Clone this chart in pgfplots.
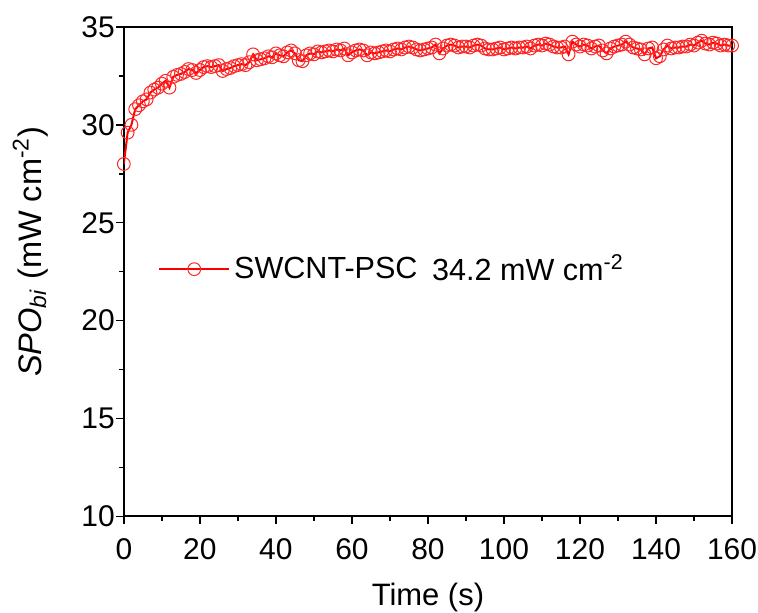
\documentclass[border=0pt]{standalone}
\usepackage{fontspec}
\setmainfont{Liberation Sans}
\usepackage{pgfplots}
\pgfplotsset{compat=1.18}
\begin{document}
\begin{tikzpicture}
\begin{axis}[
  scale only axis, width=304.5pt, height=245pt,
  xmin=0, xmax=160, ymin=10, ymax=35,
  xtick={0,20,...,160}, ytick={10,15,...,35},
  minor x tick num=1, minor y tick num=1,
  tick align=outside, tick pos=left,
  major tick length=4pt, minor tick length=2.2pt,
  axis line style={line width=1pt},
  every tick/.style={black, line width=0.8pt},
  /pgf/number format/assume math mode=true,
  tick label style={font=\fontsize{15}{18}\selectfont},
  xticklabel style={yshift=-3.5pt},
  yticklabel style={xshift=3pt},
  label style={font=\fontsize{15.5}{18}\selectfont},
  xlabel={Time (s)},
  xlabel style={yshift=-5pt},
  ylabel={\textit{SPO}\textsubscript{\textit{bi}} (mW cm\textsuperscript{-2})},
  ylabel style={yshift=10pt, xshift=10pt, font=\fontsize{16.3}{19}\selectfont},
  legend style={draw=none, fill=none, at={(0.056,0.505)}, anchor=west,
    font=\fontsize{15.3}{18}\selectfont, inner sep=0pt},
  legend cell align=left,
  legend image code/.code={%
    \draw[#1, mark=none] (0pt,0pt) -- (35pt,0pt);
    \draw[#1, only marks] plot coordinates {(17.5pt,0pt)};
  },
]
\addplot[red, line width=1pt, mark=o, mark size=3.2pt,
  mark options={fill=white, draw=red!85, line width=0.5pt, solid}] table {
t v
0 28.0
1 29.6
2 30.0
3 30.8
4 31.0
5 31.2
6 31.3
7 31.65
8 31.8
9 31.9
10 32.1
11 32.25
12 31.9
13 32.45
14 32.55
15 32.6
16 32.7
17 32.85
18 32.8
19 32.65
20 32.8
21 32.95
22 33.0
23 32.95
24 33.0
25 33.05
26 32.75
27 32.85
28 32.9
29 33.0
30 33.05
31 33.1
32 33.05
33 33.2
34 33.6
35 33.3
36 33.35
37 33.4
38 33.5
39 33.45
40 33.65
41 33.55
42 33.5
43 33.7
44 33.8
45 33.65
46 33.3
47 33.25
48 33.55
49 33.65
50 33.6
51 33.75
52 33.7
53 33.75
54 33.8
55 33.75
56 33.85
57 33.8
58 33.9
59 33.55
60 33.7
61 33.8
62 33.85
63 33.8
64 33.55
65 33.7
66 33.65
67 33.7
68 33.75
69 33.8
70 33.75
71 33.85
72 33.9
73 33.85
74 33.95
75 34.0
76 33.95
77 33.85
78 33.8
79 33.85
80 33.9
81 33.95
82 34.1
83 33.65
84 33.9
85 34.05
86 34.1
87 34.05
88 33.95
89 34.0
90 34.0
91 33.95
92 34.05
93 34.1
94 34.05
95 33.9
96 33.85
97 33.85
98 33.9
99 33.95
100 33.85
101 33.9
102 33.95
103 33.9
104 33.95
105 33.95
106 34.0
107 33.9
108 34.05
109 34.1
110 34.05
111 34.15
112 34.1
113 34.0
114 33.95
115 33.95
116 34.0
117 33.6
118 34.25
119 34.1
120 34.0
121 34.1
122 34.05
123 33.9
124 34.0
125 34.05
126 33.8
127 33.65
128 33.9
129 34.0
130 34.05
131 34.1
132 34.25
133 34.1
134 33.95
135 33.9
136 33.85
137 33.6
138 33.9
139 33.95
140 33.4
141 33.5
142 33.85
143 34.05
144 33.9
145 33.95
146 33.95
147 34.0
148 34.0
149 34.1
150 34.05
151 34.2
152 34.3
153 34.15
154 34.1
155 34.2
156 34.15
157 34.05
158 34.1
159 34.05
160 34.05
};
\addlegendentry{SWCNT-PSC}
\node[anchor=west, font=\fontsize{15.3}{18}\selectfont, inner sep=0pt]
  at (axis cs:81,22.7) {34.2 mW cm\textsuperscript{-2}};
\end{axis}
\path (current axis.south west) ++(-62pt,-48pt) coordinate (bl);
\path (current axis.north east) ++(13pt,13.5pt) coordinate (tr);
\pgfresetboundingbox
\path (bl) rectangle (tr);
\end{tikzpicture}
\end{document}
